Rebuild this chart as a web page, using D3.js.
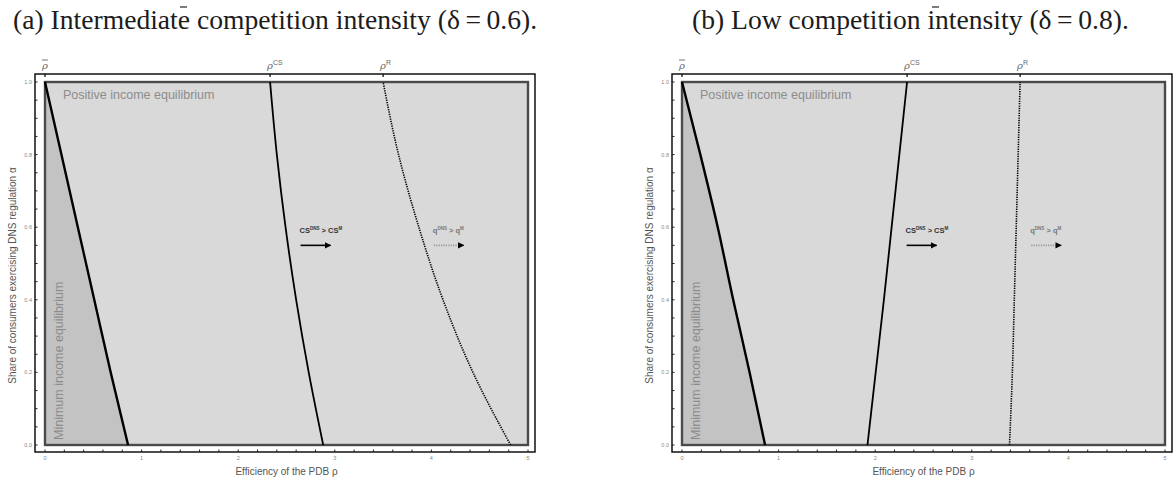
<!DOCTYPE html>
<html>
<head>
<meta charset="utf-8">
<style>
  body { margin: 0; background: #fff; }
  svg { display: block; }
</style>
</head>
<body>
<svg id="chart"></svg>
<script src="https://cdnjs.cloudflare.com/ajax/libs/d3/7.8.5/d3.min.js"></script>
<script>
// values (alpha on y, rho on x)
const alphaGrid = [0, 0.2, 0.4, 0.6, 0.8, 1];
const rhoBarA = [0.86, 0.68, 0.51, 0.34, 0.17, 0];
const rhoCsA  = [2.88, 2.73, 2.60, 2.49, 2.40, 2.33];
const rhoRA   = [4.82, 4.43, 4.12, 3.87, 3.66, 3.50];
const rhoBarB = [0.86, 0.70, 0.53, 0.37, 0.19, 0];
const rhoCsB  = [1.92, 2.005, 2.09, 2.17, 2.25, 2.33];
const rhoRB   = [3.39, 3.42, 3.44, 3.46, 3.48, 3.50];

const titles = ["(a) Intermediate competition intensity (\u03b4\u2009=\u20090.6).",
                "(b) Low competition intensity (\u03b4\u2009=\u20090.8)."];
const xTicks = [0, 1, 2, 3, 4, 5];
const yTicks = [0, 0.2, 0.4, 0.6, 0.8, 1.0];
const xLabel = "Efficiency of the PDB \u03c1";
const yLabel = "Share of consumers exercising DNS regulation \u03b1";

const width = 1173, height = 479;
const svg = d3.select('#chart').attr('width', width).attr('height', height);

const defs = svg.append('defs');
defs.append('marker').attr('id', 'head')
    .attr('viewBox', '0 0 10 10').attr('refX', 9).attr('refY', 5)
    .attr('markerWidth', 4).attr('markerHeight', 4).attr('orient', 'auto')
    .append('path').attr('d', 'M0,0 L10,5 L0,10 Z').attr('fill', '#000');

// one font size for both titles, fitted to the width of title (b) in the picture
const probe = svg.append('text')
    .attr('font-family', "'Liberation Serif', 'DejaVu Serif', serif")
    .attr('font-size', 20).text(titles[1]);
const titleSize = 20 * 437 / probe.node().getComputedTextLength();
probe.remove();

const panels = [
    {left: 45, title: titles[0], titleX: 13, bar: rhoBarA, cs: rhoCsA, r: rhoRA, overbarX: 180},
    {left: 682, title: titles[1], titleX: 692, bar: rhoBarB, cs: rhoCsB, r: rhoRB, overbarX: 932}
];

panels.forEach(drawPanel);

function drawPanel(p) {
    const x = d3.scaleLinear().domain([0, 5]).range([p.left, p.left + 483]);
    const y = d3.scaleLinear().domain([0, 1]).range([445, 82]);
    const g = svg.append('g');
    const outer = {x0: x(0) - 10, x1: x(5) + 7, y0: y(1) - 8, y1: y(0) + 7};

    // title
    g.append('text').attr('x', p.titleX).attr('y', 29)
        .attr('font-family', "'Liberation Serif', 'DejaVu Serif', serif")
        .attr('font-size', titleSize).attr('fill', '#1c1c1c')
        .text(p.title);
    g.append('line').attr('x1', p.overbarX).attr('x2', p.overbarX + 7)
        .attr('y1', 7).attr('y2', 7).attr('stroke', '#333').attr('stroke-width', 1.3);

    // regions
    g.append('rect').attr('x', x(0)).attr('y', y(1))
        .attr('width', x(5) - x(0)).attr('height', y(0) - y(1))
        .attr('fill', '#d9d9d9');

    const pts = key => alphaGrid.map((a, i) => ({a: a, r: p[key][i]}));
    const area = d3.area().curve(d3.curveMonotoneY)
        .y(d => y(d.a)).x0(x(0)).x1(d => x(d.r));
    g.append('path').datum(pts('bar')).attr('d', area).attr('fill', '#c3c3c3');

    // inner border
    g.append('rect').attr('x', x(0)).attr('y', y(1))
        .attr('width', x(5) - x(0)).attr('height', y(0) - y(1))
        .attr('fill', 'none').attr('stroke', '#4a4a4a').attr('stroke-width', 2.4);

    const line = d3.line().curve(d3.curveMonotoneY)
        .y(d => y(d.a)).x(d => x(d.r));
    g.append('path').datum(pts('bar')).attr('d', line)
        .attr('fill', 'none').attr('stroke', '#000').attr('stroke-width', 2.4);
    g.append('path').datum(pts('cs')).attr('d', line)
        .attr('fill', 'none').attr('stroke', '#000').attr('stroke-width', 1.8);
    g.append('path').datum(pts('r')).attr('d', line)
        .attr('fill', 'none').attr('stroke', '#000').attr('stroke-width', 1.6)
        .attr('stroke-dasharray', '1.3,1.1');

    // in-plot labels
    g.append('text').attr('x', x(0) + 18).attr('y', y(1) + 17)
        .attr('font-family', 'Liberation Sans, Arial, sans-serif')
        .attr('font-size', 12.5).attr('fill', '#8c8c8c')
        .text('Positive income equilibrium');
    g.append('text')
        .attr('transform', `translate(${x(0) + 18},${y(0) - 5}) rotate(-90)`)
        .attr('font-family', 'Liberation Sans, Arial, sans-serif')
        .attr('font-size', 12.5).attr('fill', '#8c8c8c')
        .text('Minimum income equilibrium');

    // outer frame + ticks
    g.append('rect').attr('x', outer.x0).attr('y', outer.y0)
        .attr('width', outer.x1 - outer.x0).attr('height', outer.y1 - outer.y0)
        .attr('fill', 'none').attr('stroke', '#000').attr('stroke-width', 1.4);

    const xMinor = d3.range(0, 5.001, 0.2);
    g.selectAll('.xt').data(xMinor).enter().append('line')
        .attr('x1', d => x(d)).attr('x2', d => x(d))
        .attr('y1', outer.y1).attr('y2', outer.y1 - 2.5)
        .attr('stroke', '#222').attr('stroke-width', 1);
    const yMinor = d3.range(0, 1.001, 0.05);
    g.selectAll('.yt').data(yMinor).enter().append('line')
        .attr('x1', outer.x0).attr('x2', outer.x0 + 2.5)
        .attr('y1', d => y(d)).attr('y2', d => y(d))
        .attr('stroke', '#222').attr('stroke-width', 1);

    g.selectAll('.xl').data(xTicks).enter().append('text')
        .attr('x', d => x(d)).attr('y', outer.y1 + 8)
        .attr('text-anchor', 'middle')
        .attr('font-family', 'Liberation Sans, Arial, sans-serif')
        .attr('font-size', 5.5).attr('fill', '#888')
        .text(d => d);
    g.selectAll('.yl').data(yTicks).enter().append('text')
        .attr('x', outer.x0 - 3).attr('y', d => y(d) + 2)
        .attr('text-anchor', 'end')
        .attr('font-family', 'Liberation Sans, Arial, sans-serif')
        .attr('font-size', 5.5).attr('fill', '#888')
        .text(d => d.toFixed(1));

    // top markers
    const top = [
        {v: p.bar[5], base: '\u03c1', sup: '', bar: true},
        {v: p.cs[5], base: '\u03c1', sup: 'CS', bar: false},
        {v: p.r[5], base: '\u03c1', sup: 'R', bar: false}
    ];
    top.forEach(t => {
        g.append('line').attr('x1', x(t.v)).attr('x2', x(t.v))
            .attr('y1', outer.y0).attr('y2', outer.y0 + 3)
            .attr('stroke', '#000').attr('stroke-width', 1.2);
        const tx = g.append('text').attr('x', x(t.v) - 3).attr('y', outer.y0 - 5)
            .attr('font-family', "'DejaVu Serif', serif").attr('font-style', 'italic')
            .attr('font-size', 10).attr('fill', '#666');
        tx.append('tspan').text(t.base);
        if (t.sup) tx.append('tspan').attr('dy', -4).attr('font-size', 7)
            .attr('font-family', 'Liberation Sans, Arial, sans-serif').attr('font-style', 'normal').text(t.sup);
        if (t.bar) g.append('line').attr('x1', x(t.v) - 3).attr('x2', x(t.v) + 3)
            .attr('y1', outer.y0 - 14).attr('y2', outer.y0 - 14)
            .attr('stroke', '#666').attr('stroke-width', 0.9);
    });

    // axis titles
    g.append('text').attr('x', (x(0) + x(5)) / 2).attr('y', 475)
        .attr('text-anchor', 'middle')
        .attr('font-family', 'Liberation Sans, Arial, sans-serif')
        .attr('font-size', 10).attr('fill', '#555')
        .text(xLabel);
    g.append('text')
        .attr('transform', `translate(${outer.x0 - 19},${(y(0) + y(1)) / 2 + 12}) rotate(-90)`)
        .attr('text-anchor', 'middle')
        .attr('font-family', 'Liberation Sans, Arial, sans-serif')
        .attr('font-size', 10).attr('fill', '#555')
        .text(yLabel);

    // arrow annotations
    const csX = x(p.cs[3]) + 14, rX = x(p.r[3]) + 14;
    const ann = [
        {x: csX, base: 'CS', sup: 'DNS', base2: 'CS', sup2: 'M', dotted: false},
        {x: rX, base: 'q', sup: 'DNS', base2: 'q', sup2: 'M', dotted: true}
    ];
    ann.forEach(a => {
        const t = g.append('text').attr('x', a.x).attr('y', y(0.585))
            .attr('font-family', 'Liberation Sans, Arial, sans-serif')
            .attr('font-weight', 'bold').attr('font-size', 7.5).attr('fill', a.dotted ? '#777' : '#333');
        t.append('tspan').text(a.base);
        t.append('tspan').attr('dy', -3).attr('font-size', 4.5).text(a.sup);
        t.append('tspan').attr('dy', 3).text(' > ' + a.base2);
        t.append('tspan').attr('dy', -3).attr('font-size', 4.5).text(a.sup2);
        g.append('line').attr('x1', a.x + 1).attr('x2', a.x + 31)
            .attr('y1', y(0.55)).attr('y2', y(0.55))
            .attr('stroke', a.dotted ? '#999' : '#000').attr('stroke-width', 1.6)
            .attr('stroke-dasharray', a.dotted ? '1.2,1.2' : null)
            .attr('marker-end', 'url(#head)');
    });
}
</script>
</body>
</html>
